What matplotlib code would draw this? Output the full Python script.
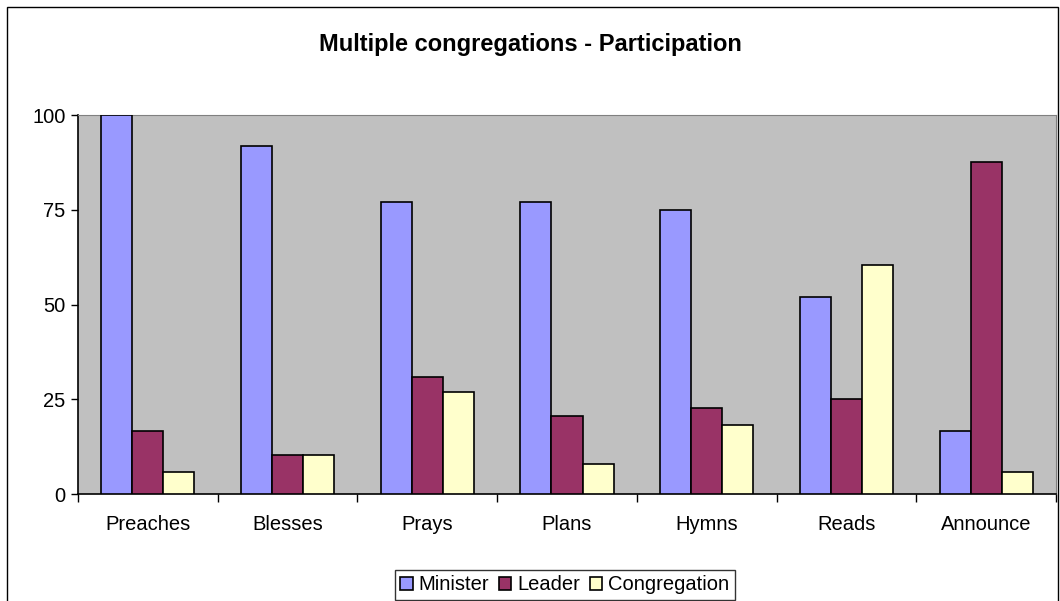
import numpy as np
import matplotlib.pyplot as plt
from matplotlib.patches import Rectangle

plt.rcParams['font.family'] = ['Liberation Sans', 'DejaVu Sans']

# data #
categories = ['Preaches', 'Blesses', 'Prays', 'Plans', 'Hymns', 'Reads', 'Announce']
minister = [100, 91.7, 77.1, 77.1, 75.0, 52.1, 16.7]
leader = [16.7, 10.2, 30.8, 20.5, 22.7, 25.0, 87.5]
congregation = [5.9, 10.2, 27.0, 8.0, 18.2, 60.4, 5.9]
series = [('Minister', minister, '#9999FF'),
          ('Leader', leader, '#993366'),
          ('Congregation', congregation, '#FFFFCC')]

W, H = 1060, 601
fig = plt.figure(figsize=(W / 100, H / 100), dpi=100)
ax = fig.add_axes([78 / W, (H - 494) / H, (1056 - 78) / W, (494 - 115) / H])
ax.set_facecolor('#C0C0C0')

x = np.arange(len(categories))
bw = 2 / 9  # gap width 150%
for i, (name, vals, col) in enumerate(series):
    ax.bar(x + (i - 1) * bw, vals, width=bw, color=col, edgecolor='black',
           linewidth=1.2, label=name, zorder=3)

ax.set_xlim(-0.5, len(categories) - 0.5)
ax.set_ylim(0, 100)
ax.set_yticks([0, 25, 50, 75, 100])
ax.tick_params(axis='y', labelsize=14.5, length=5, width=1, direction='out', pad=4)
ax.set_xticks(x)
ax.set_xticklabels(categories)
ax.tick_params(axis='x', labelsize=14.5, length=0, pad=15)
ax.set_xticks(np.arange(len(categories) + 1) - 0.5, minor=True)
ax.tick_params(axis='x', which='minor', length=6, width=1, direction='out')

for s in ['top', 'right']:
    ax.spines[s].set_color('#808080')
for s in ['left', 'bottom']:
    ax.spines[s].set_color('black')
    ax.spines[s].set_linewidth(1.2)

fig.text(0.5, 1 - 45 / H, 'Multiple congregations - Participation',
         ha='center', va='center', fontsize=17, fontweight='bold')

leg = fig.legend(loc='center', bbox_to_anchor=(565 / W, 1 - 585 / H), ncol=3,
                 fontsize=14.5, frameon=True, fancybox=False, handlelength=0.6,
                 handleheight=0.6, handletextpad=0.3, columnspacing=0.5,
                 borderpad=0.25, edgecolor='black')
leg.get_frame().set_linewidth(1)

# chart frame (cropped at bottom)
fig.patches.append(Rectangle((7 / W, -0.05), (1058 - 7) / W, 1.05 - 7 / H,
                             transform=fig.transFigure, fill=False,
                             edgecolor='black', linewidth=1))

fig.savefig('out.png', dpi=100)
